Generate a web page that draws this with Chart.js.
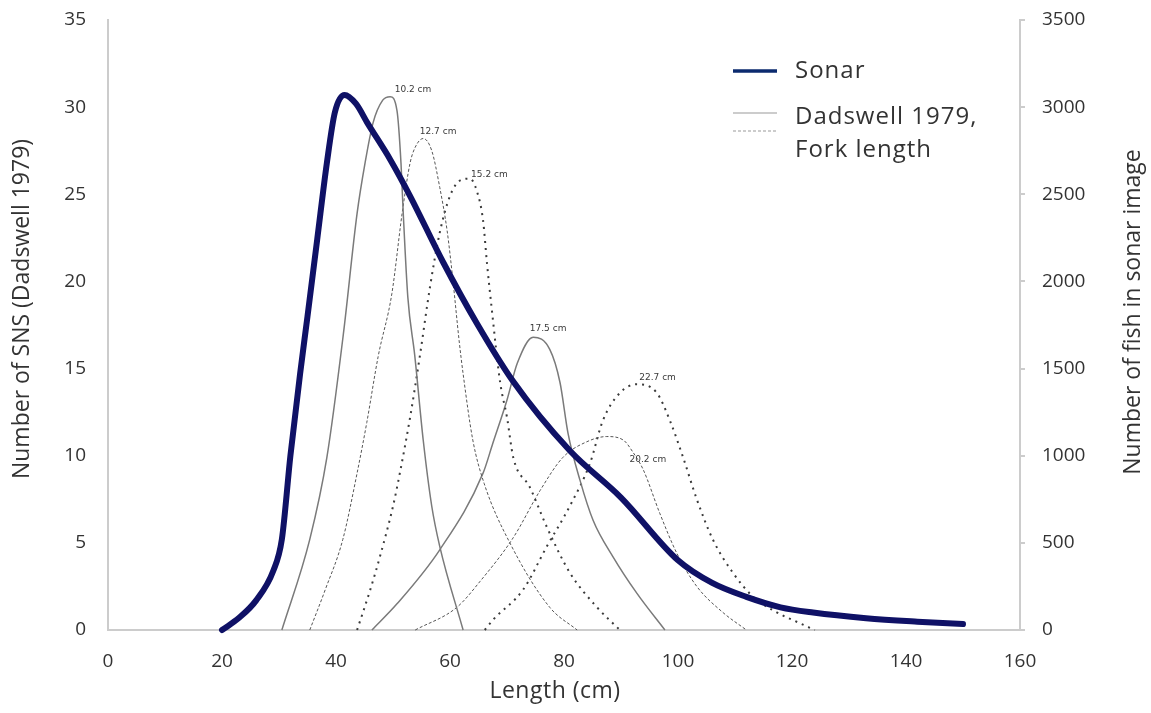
<!DOCTYPE html>
<html>
<head>
<meta charset="utf-8">
<script src="https://cdn.jsdelivr.net/npm/chart.js@4/dist/chart.umd.min.js"></script>
<style>
html,body{margin:0;padding:0;background:#fff;}
#wrap{width:1151px;height:713px;}
</style>
</head>
<body>
<div id="wrap"><canvas id="c" width="1151" height="713"></canvas></div>
<script>
// ---- Data ----
const xTicks = [0, 20, 40, 60, 80, 100, 120, 140, 160];

// Sonar: fish counts (right axis)
const sonarLen   = [20, 23, 26, 29, 30.5, 32, 33.7, 35, 36.7, 38.4, 39.8, 41.5, 43.5, 45.5, 49.5, 53, 58.8, 64.7, 71, 81, 90, 100, 106, 112, 118, 123.7, 133, 142, 150];
const sonarCount = [0, 70, 170, 340, 520, 1000, 1470, 1800, 2240, 2680, 2970, 3070, 3020, 2910, 2700, 2490, 2110, 1760, 1430, 1030, 760, 400, 270, 190, 130, 100, 68, 48, 34];

// Dadswell 1979 age classes (left axis)
const d102Len = [30.5, 35.4, 38.4, 41.3, 43.7, 45.1, 46.5, 48.2, 49.5, 50.7, 51.4, 51.8, 52.6, 53.8, 55.3, 56.8, 58.2, 62.3];
const d102Val = [0, 5.2, 9.9, 17.0, 23.9, 26.8, 29.1, 30.4, 30.6, 29.8, 26.8, 23.9, 19.1, 15.8, 10.9, 7.1, 4.8, 0];

const d127Len = [35.4, 38.1, 41.2, 43.7, 45.4, 47.4, 49.8, 51.6, 53, 53.9, 55.3, 56.8, 58.2, 59.5, 60.5, 61.6, 62.3, 64, 66, 70.5, 77.5, 82.3];
const d127Val = [0, 2.3, 5.2, 9, 11.9, 15.7, 19.3, 23.9, 26.8, 27.7, 28.2, 27.5, 25.4, 22.9, 20.1, 16.6, 14.7, 10.9, 8.4, 5.0, 1.3, 0];

const d152Len = [43.7, 46, 47.7, 50, 51.2, 53, 54.7, 56.5, 58.2, 60, 61.8, 63.5, 64.7, 65.8, 66.5, 67.3, 68.8, 70, 71.1, 74, 77, 81, 85.8, 89.8];
const d152Val = [0, 2.3, 4.2, 7.1, 9, 12.2, 15.7, 19.7, 22.8, 24.9, 25.8, 25.9, 25.2, 23.5, 21.0, 18.5, 14.2, 12.2, 9.9, 8.2, 5.9, 3.3, 1.3, 0];

const d175Len = [46.3, 50.7, 58.2, 65.8, 67.5, 70, 71.8, 74.6, 77.5, 79.3, 80.7, 82.8, 85.1, 88.6, 92.8, 97.7];
const d175Val = [0, 1.5, 4.6, 9, 10.7, 13.2, 15.3, 16.8, 16.1, 14.2, 11.3, 8.6, 6.3, 4.2, 2.1, 0];

const d202Len = [53.9, 61.2, 65.3, 71.1, 75.8, 79.8, 84, 87.5, 90.4, 92.1, 93.9, 96.8, 99.8, 103.3, 107.9, 112];
const d202Val = [0, 1.3, 2.8, 5.3, 8, 9.9, 10.8, 11.1, 10.9, 10.2, 9.2, 6.7, 4.4, 2.5, 1.0, 0];

const d227Len = [66.1, 67.6, 72.8, 77, 81, 84.6, 86.8, 89.8, 92.8, 96.3, 98.6, 100.9, 103.3, 106.1, 109.6, 113.2, 117.4, 120.9, 124];
const d227Val = [0, 0.6, 2.3, 4.8, 7.1, 9.6, 12, 13.6, 14.1, 13.6, 12, 9.9, 7.5, 5.2, 3.3, 1.9, 1.0, 0.46, 0];

// Curve labels (modal size increments) and their anchor values
const curveLabels = ['10.2 cm', '12.7 cm', '15.2 cm', '17.5 cm', '22.7 cm', '20.2 cm'];
const labelLen    = [50.3, 54.7, 63.7, 74.0, 93.2, 91.5];
const labelVal    = [31.0, 28.6, 26.1, 17.3, 14.5, 9.75];

const legendLabels = ['Sonar', 'Dadswell 1979,', 'Fork length'];
const axisTitles = {x: 'Length (cm)', y: 'Number of SNS (Dadswell 1979)', y2: 'Number of fish in sonar image'};

// ---- Build ----
const pts = (xs, ys) => xs.map((x, i) => ({x: x, y: ys[i]}));
const FONT = "'Open Sans', Lato, sans-serif";
const AXIS_COLOR = '#cccccc';
const TEXT = '#333333';

function gray(data, dash, width, color) {
  return {
    data: data, yAxisID: 'y', borderColor: color, borderWidth: width, borderDash: dash,
    pointRadius: 0, fill: false, cubicInterpolationMode: 'monotone', clip: 4
  };
}

const labelPlugin = {
  id: 'curveLabels',
  afterDatasetsDraw(chart) {
    const ctx = chart.ctx, xs = chart.scales.x, ys = chart.scales.y;
    ctx.save();
    ctx.font = "9px 'DejaVu Sans', Verdana, sans-serif";
    ctx.fillStyle = '#3a3a3a';
    ctx.textAlign = 'left';
    ctx.textBaseline = 'middle';
    curveLabels.forEach((t, i) => {
      ctx.fillText(t, xs.getPixelForValue(labelLen[i]), ys.getPixelForValue(labelVal[i]));
    });
    ctx.restore();
  }
};

const titlePlugin = {
  id: 'axisTitles',
  afterDraw(chart) {
    const ctx = chart.ctx, a = chart.chartArea;
    ctx.save();
    ctx.fillStyle = TEXT;
    ctx.font = "23px " + FONT;
    ctx.letterSpacing = '0.5px';
    ctx.textAlign = 'center';
    ctx.textBaseline = 'middle';
    ctx.fillText(axisTitles.x, a.left + 447, 691);
    ctx.letterSpacing = '0px';
    ctx.translate(22, a.top + 289);
    ctx.rotate(-Math.PI / 2);
    ctx.fillText(axisTitles.y, 0, 0);
    ctx.restore();
    ctx.save();
    ctx.fillStyle = TEXT;
    ctx.font = "23px " + FONT;
    ctx.textAlign = 'center';
    ctx.textBaseline = 'middle';
    ctx.translate(1133, a.top + 292);
    ctx.rotate(-Math.PI / 2);
    ctx.fillText(axisTitles.y2, 0, 0);
    ctx.restore();
  }
};

const legendPlugin = {
  id: 'customLegend',
  afterDraw(chart) {
    const ctx = chart.ctx, a = chart.chartArea;
    const x0 = a.left + 625, x1 = a.left + 669, tx = a.left + 687;
    ctx.save();
    ctx.lineCap = 'butt';
    ctx.strokeStyle = '#0b2a6e'; ctx.lineWidth = 3.5;
    ctx.beginPath(); ctx.moveTo(x0, a.top + 51); ctx.lineTo(x1, a.top + 51); ctx.stroke();
    ctx.strokeStyle = '#9a9a9a'; ctx.lineWidth = 1.2;
    ctx.beginPath(); ctx.moveTo(x0, a.top + 93); ctx.lineTo(x1, a.top + 93); ctx.stroke();
    ctx.setLineDash([3, 2]);
    ctx.beginPath(); ctx.moveTo(x0, a.top + 111); ctx.lineTo(x1, a.top + 111); ctx.stroke();
    ctx.setLineDash([]);
    ctx.fillStyle = TEXT;
    ctx.font = "24px " + FONT;
    ctx.letterSpacing = '1px';
    ctx.textAlign = 'left'; ctx.textBaseline = 'middle';
    ctx.fillText(legendLabels[0], tx, a.top + 51);
    ctx.fillText(legendLabels[1], tx, a.top + 97);
    ctx.fillText(legendLabels[2], tx, a.top + 130);
    ctx.restore();
  }
};

const noPad = s => { s.paddingTop = 0; s.paddingBottom = 0; };

new Chart(document.getElementById('c'), {
  type: 'line',
  data: {
    datasets: [
      {
        label: 'Sonar', data: pts(sonarLen, sonarCount), yAxisID: 'y2',
        borderColor: '#0f1166', borderWidth: 6, pointRadius: 0, fill: false,
        cubicInterpolationMode: 'monotone', clip: 10, borderCapStyle: 'round', borderJoinStyle: 'round'
      },
      gray(pts(d102Len, d102Val), [], 1.5, '#7a7a7a'),
      gray(pts(d127Len, d127Val), [3, 2], 1, '#555555'),
      gray(pts(d152Len, d152Val), [2, 5], 2, '#3a3a3a'),
      gray(pts(d175Len, d175Val), [], 1.5, '#7a7a7a'),
      gray(pts(d202Len, d202Val), [3, 2], 1, '#555555'),
      gray(pts(d227Len, d227Val), [2, 5], 2, '#3a3a3a')
    ]
  },
  options: {
    responsive: false,
    animation: false,
    events: [],
    layout: {padding: {top: 20, left: 0, right: 0, bottom: 0}},
    plugins: {legend: {display: false}, tooltip: {enabled: false}},
    scales: {
      x: {
        type: 'linear', min: 0, max: 160,
        afterBuildTicks: s => { s.ticks = xTicks.map(v => ({value: v})); },
        afterFit: s => { s.height = 83; s.paddingLeft = 0; s.paddingRight = 0; },
        grid: {display: true, drawOnChartArea: false, drawTicks: false},
        border: {display: true, color: AXIS_COLOR, width: 2},
        ticks: {color: TEXT, font: {family: FONT, size: 19}, padding: 20, maxRotation: 0}
      },
      y: {
        type: 'linear', position: 'left', min: 0, max: 35,
        ticks: {stepSize: 5, color: TEXT, font: {family: FONT, size: 19}, padding: 22},
        afterFit: s => { s.width = 108; noPad(s); },
        grid: {display: true, drawOnChartArea: false, drawTicks: false},
        border: {display: true, color: AXIS_COLOR, width: 2}
      },
      y2: {
        type: 'linear', position: 'right', min: 0, max: 3500,
        ticks: {stepSize: 500, color: TEXT, font: {family: FONT, size: 19}, padding: 17,
                callback: v => String(v)},
        afterFit: s => { s.width = 131; noPad(s); },
        grid: {display: true, drawOnChartArea: false, drawTicks: true, tickLength: 5, color: AXIS_COLOR, lineWidth: 2},
        border: {display: true, color: AXIS_COLOR, width: 2}
      }
    }
  },
  plugins: [labelPlugin, legendPlugin, titlePlugin]
});
</script>
</body>
</html>
